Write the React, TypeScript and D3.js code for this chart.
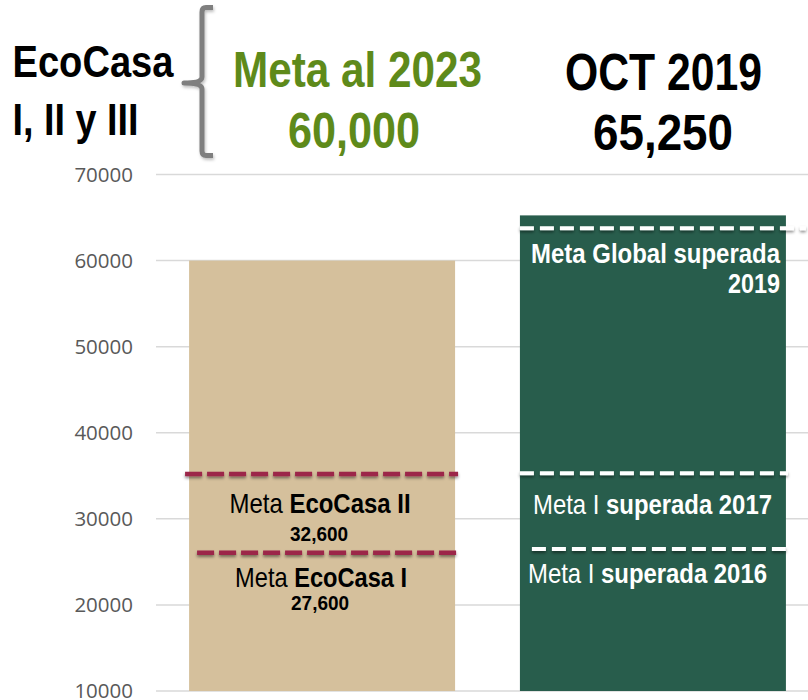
import React from "react";
import * as d3 from "d3";

const categories = ["Meta al 2023", "OCT 2019"];
const values = [60000, 65250];
const yTicks = [10000, 20000, 30000, 40000, 50000, 60000, 70000];
const goalLinesEcoCasa = [35200, 26050];
const goalLinesReached = [63750, 35300, 26500];
const headerValues = ["60,000", "65,250"];

const W = 808;
const H = 700;
const NARROW = "'Liberation Sans Narrow', 'Arial Narrow', 'Liberation Sans', Arial, sans-serif";

export default function App() {
  const y = d3.scaleLinear().domain([10000, 70000]).range([691, 174.5]);
  const x = d3.scaleBand<string>().domain(categories).range([156, 819]).paddingInner(0.196).paddingOuter(0.1);
  const bw = x.bandwidth();
  const x0 = x(categories[0])!;
  const x1 = x(categories[1])!;
  const c0 = x0 + bw / 2;

  return (
    <svg width={W} height={H} style={{ position: "absolute", left: 0, top: 0, background: "#fff" }}>
      <defs>
        <filter id="sh" filterUnits="userSpaceOnUse" x={0} y={0} width={W} height={H}>
          <feDropShadow dx="0" dy="2" stdDeviation="1.8" floodColor="#000" floodOpacity="0.45" />
        </filter>
        <filter id="sh2" filterUnits="userSpaceOnUse" x={0} y={0} width={W} height={H}>
          <feDropShadow dx="1" dy="2" stdDeviation="1.5" floodColor="#000" floodOpacity="0.25" />
        </filter>
      </defs>
      {/* gridlines */}
      {yTicks.map((t) => (
        <line key={t} x1={156} x2={819} y1={y(t)} y2={y(t)} stroke="#d9d9d9" strokeWidth={1.5} />
      ))}
      {yTicks.map((t) => (
        <text key={"l" + t} x={133} y={y(t)} dy="0.36em" textAnchor="end" fontFamily="'Open Sans', sans-serif" fontSize={20.5} fill="#595959">
          {t}
        </text>
      ))}
      {/* bars */}
      <rect x={x0} y={y(values[0])} width={bw} height={y(10000) - y(values[0])} fill="#d5c09c" />
      <rect x={x1} y={y(values[1])} width={bw} height={y(10000) - y(values[1])} fill="#285d4c" />

      {/* maroon dashed lines */}
      <line x1={x0 - 4} x2={x0 + bw + 3} y1={y(goalLinesEcoCasa[0])} y2={y(goalLinesEcoCasa[0])} stroke="#9c2548" strokeWidth={4.5} strokeDasharray="17 5" filter="url(#sh)" />
      <line x1={x0 + 8} x2={x0 + bw + 3} y1={y(goalLinesEcoCasa[1])} y2={y(goalLinesEcoCasa[1])} stroke="#9c2548" strokeWidth={4.5} strokeDasharray="17 5" filter="url(#sh)" />

      {/* white dashed lines */}
      <line x1={x1} x2={x1 + bw + 20} y1={y(goalLinesReached[0])} y2={y(goalLinesReached[0])} stroke="#fff" strokeWidth={4} strokeDasharray="14 6" filter="url(#sh)" />
      <line x1={x1} x2={x1 + bw + 2} y1={y(goalLinesReached[1])} y2={y(goalLinesReached[1])} stroke="#fff" strokeWidth={4} strokeDasharray="14 6" filter="url(#sh)" />
      <line x1={x1 + 12} x2={x1 + bw + 2} y1={y(goalLinesReached[2])} y2={y(goalLinesReached[2])} stroke="#fff" strokeWidth={4} strokeDasharray="14 6" filter="url(#sh)" />

      {/* labels in tan bar */}
      <g fontFamily={NARROW} fill="#000" textAnchor="middle">
        <text x={c0 - 2} y={513} fontSize={28} textLength={181} lengthAdjust="spacingAndGlyphs">
          Meta <tspan fontWeight="bold">EcoCasa II</tspan>
        </text>
        <text x={c0 - 3} y={541} fontSize={21} fontWeight="bold" textLength={58} lengthAdjust="spacingAndGlyphs">32,600</text>
        <text x={c0 - 1} y={587} fontSize={28} textLength={172} lengthAdjust="spacingAndGlyphs">
          Meta <tspan fontWeight="bold">EcoCasa I</tspan>
        </text>
        <text x={c0 - 2} y={610} fontSize={21} fontWeight="bold" textLength={58} lengthAdjust="spacingAndGlyphs">27,600</text>
      </g>

      {/* labels in green bar */}
      <g fontFamily={NARROW} fill="#fff">
        <text x={780} y={263} fontSize={28} fontWeight="bold" textAnchor="end" textLength={249} lengthAdjust="spacingAndGlyphs">Meta Global superada</text>
        <text x={780} y={293} fontSize={28} fontWeight="bold" textAnchor="end" textLength={52} lengthAdjust="spacingAndGlyphs">2019</text>
        <text x={533} y={514} fontSize={28} textLength={239} lengthAdjust="spacingAndGlyphs">
          Meta I <tspan fontWeight="bold">superada 2017</tspan>
        </text>
        <text x={528} y={583} fontSize={28} textLength={239} lengthAdjust="spacingAndGlyphs">
          Meta I <tspan fontWeight="bold">superada 2016</tspan>
        </text>
      </g>

      {/* header */}
      <g fontFamily={NARROW} fontWeight="bold">
        <text x={12.5} y={77} fontSize={44} fill="#000" textLength={161} lengthAdjust="spacingAndGlyphs">EcoCasa</text>
        <text x={12.5} y={135} fontSize={45} fill="#000" textLength={126} lengthAdjust="spacingAndGlyphs">I, II y III</text>
        <text x={357.5} y={87} fontSize={50} fill="#5e8a1a" textAnchor="middle" textLength={249} lengthAdjust="spacingAndGlyphs">{categories[0]}</text>
        <text x={354} y={148} fontSize={50} fill="#5e8a1a" textAnchor="middle" textLength={132} lengthAdjust="spacingAndGlyphs">{headerValues[0]}</text>
        <text x={663.5} y={90} fontSize={52} fill="#000" textAnchor="middle" textLength={197} lengthAdjust="spacingAndGlyphs">{categories[1]}</text>
        <text x={663} y={149.5} fontSize={50} fill="#000" textAnchor="middle" textLength={140} lengthAdjust="spacingAndGlyphs">{headerValues[1]}</text>
      </g>

      {/* bracket */}
      <path
        d="M213,7.5 H206 Q202,7.5 202,12 V77 Q202,83 184,83 Q202,83 202,89 V151 Q202,155.5 206,155.5 H213"
        fill="none"
        stroke="#7f7f7f"
        strokeWidth={5}
        strokeLinejoin="round"
        filter="url(#sh2)"
      />
    </svg>
  );
}
